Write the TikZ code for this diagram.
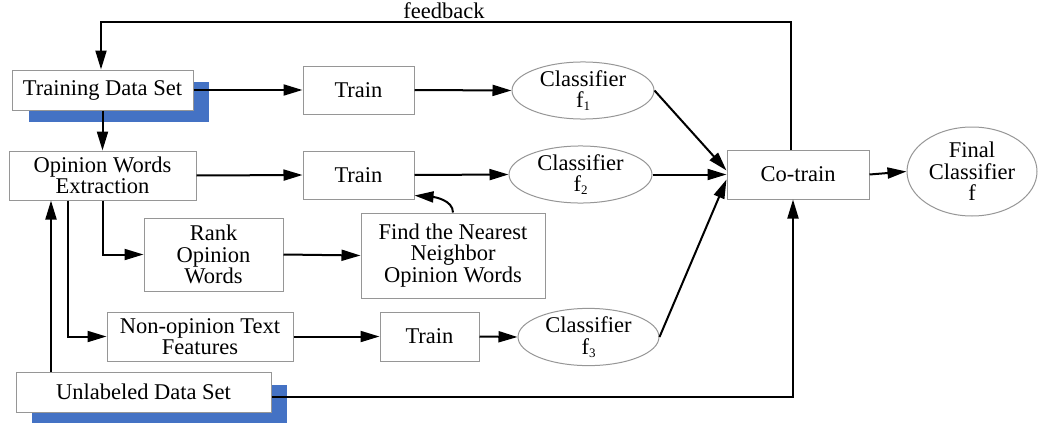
\documentclass[tikz,border=0pt]{standalone}
\usepackage{fontspec}
\setmainfont{Liberation Serif}
\usetikzlibrary{arrows.meta,shapes.geometric}
\definecolor{shadowblue}{RGB}{68,114,196}
\definecolor{edgegray}{RGB}{150,150,150}
\newcommand{\subidx}[1]{\raisebox{-3pt}{\fontsize{13}{13}\selectfont #1}}
\tikzset{
  box/.style={draw=edgegray, line width=1pt, fill=white, inner sep=0pt,
    align=center, font=\fontsize{22.5}{21.5}\selectfont},
  ell/.style={ellipse, draw=edgegray, line width=1pt, fill=white, inner sep=0pt,
    align=center, font=\fontsize{22.5}{21.5}\selectfont},
  arr/.style={line width=2pt, -{Triangle[length=19pt,width=11pt]}},
}
\begin{document}
\begin{tikzpicture}[x=1pt,y=-1pt]
\useasboundingbox (0,0) rectangle (1039,423);

% blue shadows behind the two data sets
\fill[shadowblue] (29,82) rectangle (209,122);
\fill[shadowblue] (32,385) rectangle (287,423);

% boxes
\node[box, minimum width=181pt, minimum height=40pt] (train) at (102.5,90) {Training Data Set};
\node[box, minimum width=187pt, minimum height=49pt] (opinion) at (102.5,175.5) {Opinion Words\\Extraction};
\node[box, minimum width=111pt, minimum height=48pt] (trainA) at (358.5,90) {Train};
\node[box, minimum width=111pt, minimum height=48pt] (trainB) at (358.5,175) {Train};
\node[box, minimum width=139pt, minimum height=73pt] (rank) at (213.5,254.5) {Rank\\Opinion\\Words};
\node[box, minimum width=184pt, minimum height=85pt] (find) at (453,255.5) {Find the Nearest\\Neighbor\\Opinion Words};
\node[box, minimum width=186pt, minimum height=49pt] (nonop) at (200,336.5) {Non-opinion Text\\Features};
\node[box, minimum width=99pt, minimum height=49pt] (trainC) at (429.5,336.5) {Train};
\node[box, minimum width=255pt, minimum height=40pt] (unlab) at (143.5,392) {Unlabeled Data Set};
\node[box, minimum width=142pt, minimum height=49pt] (cotrain) at (798,174.5) {Co-train};

% classifiers
\node[ell, minimum width=142pt, minimum height=51pt] (fA) at (583,90.5) {Classifier\\f\subidx{1}};
\node[ell, minimum width=143pt, minimum height=51pt] (fB) at (580.5,174.5) {Classifier\\f\subidx{2}};
\node[ell, minimum width=141pt, minimum height=50pt] (fC) at (588.5,337) {Classifier\\f\subidx{3}};
\node[ell, minimum width=130pt, minimum height=89pt] (final) at (972,171.5) {Final\\Classifier\\f};

% feedback loop
\coordinate (fbR) at (791,22);
\coordinate (fbL) at (101,22);
\node[font=\fontsize{22.5}{22.5}\selectfont, inner sep=0pt] (fbtext) at (444,11) {feedback};
\draw[arr] (cotrain.north -| fbR) -- (fbR) -- (fbL) -- (fbL |- train.north);

% training data flow
\draw[arr] (train.east) -- (trainA.west);
\draw[arr] (train.south) -- (opinion.north);
\draw[arr] (opinion.east) -- (trainB.west);
\draw[arr] (opinion.south) |- (rank.west);
\coordinate (branchX) at (68,0);
\draw[arr] (opinion.south -| branchX) |- (nonop.west);
\coordinate (upX) at (51,0);
\draw[arr] (unlab.north -| upX) -- (opinion.south -| upX);

\draw[arr] (rank.east) -- (find.west);
\draw[arr] (find.north) .. controls (453,200) and (434,197) .. ([yshift=4pt]trainB.south east);
\draw[arr] (nonop.east) -- (trainC.west);
\draw[arr] (trainC.east) -- (fC.west);

\draw[arr] (trainA.east) -- (fA.west);
\draw[arr] (trainB.east) -- (fB.west);

% classifiers into co-training
\draw[arr] (fA.east) -- ([yshift=4pt]cotrain.west);
\draw[arr] (fB.east) -- (cotrain.west);
\draw[arr] (fC.east) -- ([yshift=-5pt]cotrain.west);
\draw[arr] ([yshift=-5pt]unlab.east) -| ([xshift=-5pt]cotrain.south);
\draw[arr] (cotrain.east) -- (final.west);
\end{tikzpicture}
\end{document}
